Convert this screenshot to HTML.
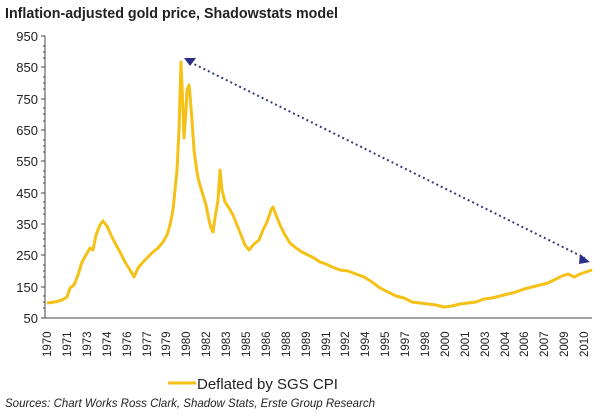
<!DOCTYPE html>
<html><head><style>
body{margin:0;background:#fff;}
svg{display:block;font-family:"Liberation Sans",Arial,sans-serif;}
</style></head><body>
<svg width="601" height="417" viewBox="0 0 601 417">
<text x="5" y="18" font-size="15" font-weight="bold" fill="#222" textLength="333" lengthAdjust="spacingAndGlyphs">Inflation-adjusted gold price, Shadowstats model</text>
<g font-size="13" fill="#222" text-anchor="end">
<text x="38" y="41">950</text><text x="38" y="72">850</text><text x="38" y="104">750</text>
<text x="38" y="135">650</text><text x="38" y="166">550</text><text x="38" y="198">450</text>
<text x="38" y="229">350</text><text x="38" y="260">250</text><text x="38" y="292">150</text>
<text x="38" y="323">50</text>
</g>
<g stroke="#444" stroke-width="1">
<line x1="45" y1="36" x2="45" y2="318"/>
<line x1="45" y1="318" x2="592" y2="318"/>
<path d="M41 36H45M41 67H45M41 99H45M41 130H45M41 161H45M41 193H45M41 224H45M41 255H45M41 287H45M41 318H45"/>
<path d="M43 46H45M43 52H45M43 58H45M43 77H45M43 83H45M43 89H45M43 108H45M43 114H45M43 121H45M43 140H45M43 146H45M43 152H45M43 171H45M43 177H45M43 183H45M43 202H45M43 208H45M43 214H45M43 233H45M43 239H45M43 246H45M43 265H45M43 271H45M43 277H45M43 296H45M43 302H45M43 308H45"/>
</g>
<g font-size="11.5" fill="#222">
<text transform="translate(51,357) rotate(-90)">1970</text>
<text transform="translate(71,357) rotate(-90)">1971</text>
<text transform="translate(91,357) rotate(-90)">1973</text>
<text transform="translate(111,357) rotate(-90)">1974</text>
<text transform="translate(131,357) rotate(-90)">1976</text>
<text transform="translate(151,357) rotate(-90)">1977</text>
<text transform="translate(170,357) rotate(-90)">1979</text>
<text transform="translate(190,357) rotate(-90)">1980</text>
<text transform="translate(210,357) rotate(-90)">1982</text>
<text transform="translate(230,357) rotate(-90)">1983</text>
<text transform="translate(250,357) rotate(-90)">1985</text>
<text transform="translate(270,357) rotate(-90)">1986</text>
<text transform="translate(290,357) rotate(-90)">1988</text>
<text transform="translate(310,357) rotate(-90)">1989</text>
<text transform="translate(330,357) rotate(-90)">1991</text>
<text transform="translate(349,357) rotate(-90)">1992</text>
<text transform="translate(369,357) rotate(-90)">1994</text>
<text transform="translate(389,357) rotate(-90)">1995</text>
<text transform="translate(409,357) rotate(-90)">1997</text>
<text transform="translate(429,357) rotate(-90)">1998</text>
<text transform="translate(449,357) rotate(-90)">2000</text>
<text transform="translate(469,357) rotate(-90)">2001</text>
<text transform="translate(489,357) rotate(-90)">2003</text>
<text transform="translate(509,357) rotate(-90)">2004</text>
<text transform="translate(528,357) rotate(-90)">2006</text>
<text transform="translate(548,357) rotate(-90)">2007</text>
<text transform="translate(568,357) rotate(-90)">2009</text>
<text transform="translate(588,357) rotate(-90)">2010</text>
</g>
<polyline fill="none" stroke="#f5c117" stroke-width="3" stroke-linejoin="round" points="47,303 55,302 62,300 67,297 70,288 74,285 78,275 82,262 86,255 90,248 93,250 96,235 100,225 103,221 107,226 111,235 115,243 120,252 125,262 130,270 134,277 138,268 143,262 148,257 153,252 158,248 163,242 167,235 170,225 173,210 175,190 177,170 179,130 181,62 183,110 184,138 186,110 187,90 189,85 190,95 192,120 194,150 196,165 198,178 200,185 203,195 206,205 209,220 211,228 213,232 215,218 218,200 220,170 222,190 225,202 229,208 233,215 237,225 241,235 245,245 249,250 254,244 259,240 263,230 267,222 271,210 273,207 276,215 280,225 285,235 290,243 296,248 302,252 308,255 314,258 320,262 326,264 332,267 340,270 348,271 356,274 364,277 372,282 380,288 388,292 396,296 404,298 412,302 420,303 428,304 436,305 444,307 452,306 460,304 468,303 476,302 484,299 492,298 500,296 508,294 516,292 524,289 532,287 540,285 548,283 556,279 562,276 568,274 574,277 580,274 586,272 592,270"/>
<line x1="190" y1="62" x2="585" y2="258" stroke="#333c7a" stroke-width="2" stroke-dasharray="2,3"/>
<polygon points="184,58 196,58 190,66" fill="#2b2f8a"/>
<polygon points="580,254 590,262 579,264" fill="#2b2f8a"/>
<line x1="168" y1="383" x2="196" y2="383" stroke="#f5c117" stroke-width="3"/>
<text x="197" y="389" font-size="15" fill="#222">Deflated by SGS CPI</text>
<text x="5" y="407" font-size="11.5" font-style="italic" fill="#222">Sources: Chart Works Ross Clark, Shadow Stats, Erste Group Research</text>
</svg>
</body></html>
